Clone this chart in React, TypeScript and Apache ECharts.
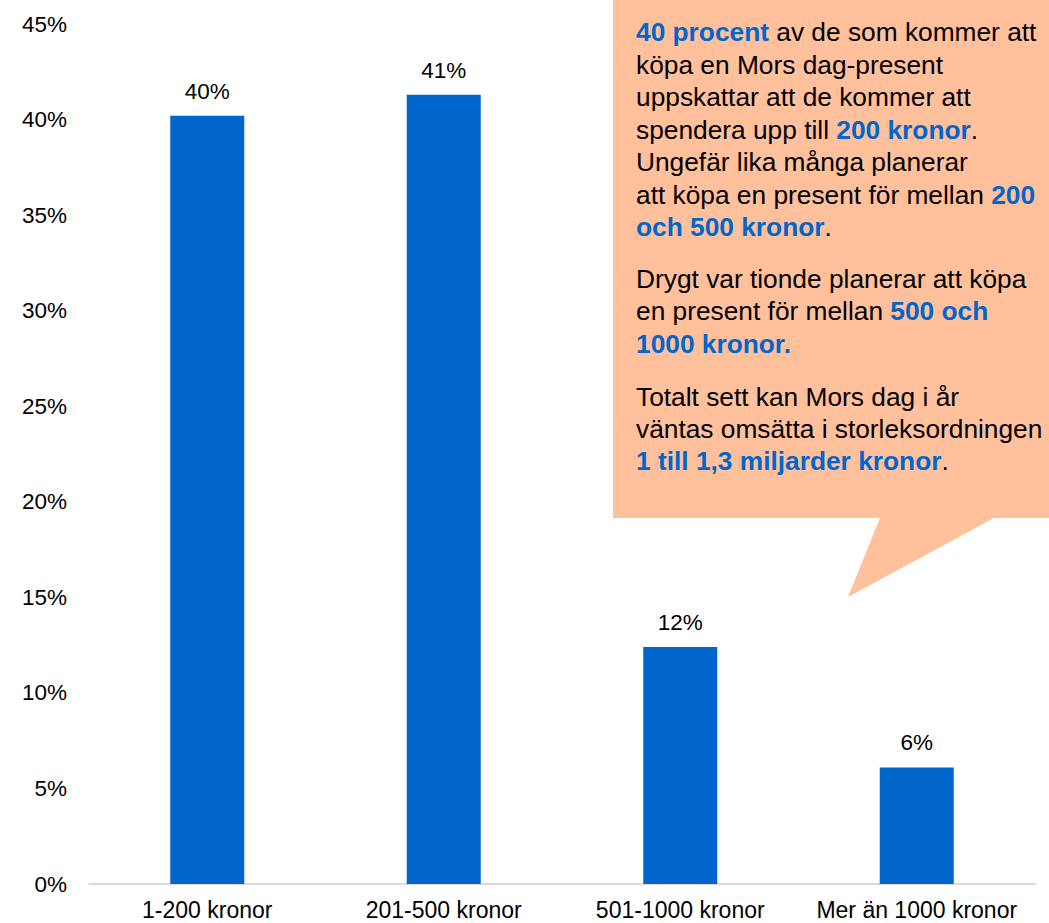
import React, { useEffect, useRef } from "react";
import * as echarts from "echarts";

const categories = ["1-200 kronor", "201-500 kronor", "501-1000 kronor", "Mer än 1000 kronor"];
const shares = [40.2, 41.3, 12.4, 6.1];
const yTicks = { min: 0, max: 45, interval: 5 };

// callout lines: [y center, rich text]
const calloutLines: [number, string][] = [
  [32, "{b|40 procent}{n| av de som kommer att}"],
  [65, "{n|köpa en Mors dag-present}"],
  [97, "{n|uppskattar att de kommer att}"],
  [130, "{n|spendera upp till }{b|200 kronor}{n|.}"],
  [162, "{n|Ungefär lika många planerar}"],
  [195, "{n|att köpa en present för mellan }{b|200}"],
  [227, "{b|och 500 kronor}{n|.}"],
  [279, "{n|Drygt var tionde planerar att köpa}"],
  [311, "{n|en present för mellan }{b|500 och}"],
  [344, "{b|1000 kronor.}"],
  [397, "{n|Totalt sett kan Mors dag i år}"],
  [429, "{n|väntas omsätta i storleksordningen}"],
  [461, "{b|1 till 1,3 miljarder kronor}{n|.}"],
];

const FONT = "'Liberation Sans', Arial, sans-serif";
const BLUE = "#0066CC";

export default function App() {
  const ref = useRef<HTMLDivElement>(null);
  useEffect(() => {
    if (!ref.current) return;
    const chart = echarts.init(ref.current, null, { renderer: "svg" });
    const rich = {
      n: { fontSize: 26.3, fontFamily: FONT, fill: "#000" },
      b: { fontSize: 26.3, fontFamily: FONT, fill: BLUE, fontWeight: "bold" },
    };
    chart.setOption({
      animation: false,
      backgroundColor: "#fff",
      grid: { left: 89, right: 14, top: 24, bottom: 39, containLabel: false },
      xAxis: {
        type: "category",
        data: categories,
        axisLine: { show: true, lineStyle: { color: "#D9D9D9", width: 2 } },
        axisTick: { show: false },
        axisLabel: { color: "#000", fontSize: 23, fontFamily: FONT, margin: 14, interval: 0 },
      },
      yAxis: {
        type: "value",
        min: yTicks.min,
        max: yTicks.max,
        interval: yTicks.interval,
        axisLine: { show: false },
        axisTick: { show: false },
        splitLine: { show: false },
        axisLabel: {
          color: "#000",
          fontSize: 22.5,
          fontFamily: FONT,
          margin: 22,
          formatter: (v: number) => v + "%",
        },
      },
      series: [
        {
          type: "bar",
          data: shares,
          barWidth: 74,
          itemStyle: { color: BLUE },
          label: {
            show: true,
            position: "top",
            distance: 13,
            color: "#000",
            fontSize: 22.5,
            fontFamily: FONT,
            formatter: (p: any) => Math.round(p.value) + "%",
          },
        },
      ],
      graphic: [
        {
          type: "polygon",
          z: 10,
          shape: {
            points: [
              [613, 0],
              [1049, 0],
              [1049, 518],
              [994, 518],
              [848, 597],
              [880, 518],
              [613, 518],
            ],
          },
          style: { fill: "#FFC09B" },
        },
        ...calloutLines.map(([y, t]) => ({
          type: "text",
          z: 11,
          x: 636,
          y,
          style: {
            text: t,
            rich,
            fill: "#000",
            font: "26.3px " + FONT,
            verticalAlign: "middle",
            align: "left",
          },
        })),
      ],
    });
    return () => chart.dispose();
  }, []);
  return (
    <div
      ref={ref}
      style={{ position: "fixed", left: 0, top: 0, width: 1049, height: 923 }}
    />
  );
}
